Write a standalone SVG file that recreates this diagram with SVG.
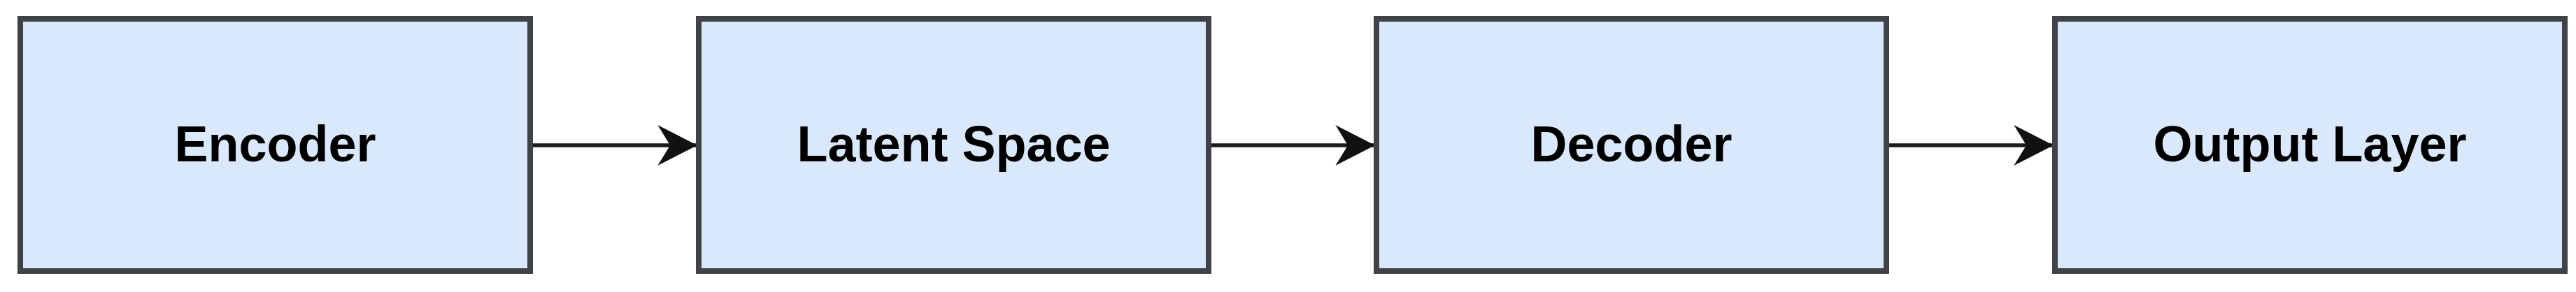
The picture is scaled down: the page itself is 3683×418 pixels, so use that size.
<svg xmlns="http://www.w3.org/2000/svg" width="3683" height="418" viewBox="0 0 3683 418">
<defs>
<style>
.box{fill:#dae8fc;stroke:#3f4246;stroke-width:8}
.lbl{font-family:"Liberation Sans",Arial,sans-serif;font-weight:bold;font-size:72px;fill:#000;text-anchor:middle}
.conn{stroke:#1a1a1a;stroke-width:5.5;fill:none}
</style>
<marker id="arr" markerUnits="userSpaceOnUse" markerWidth="60" markerHeight="60" viewBox="-52 -27 54 54" refX="0" refY="0" orient="auto">
<path d="M0,0 L-51,-26 L-35,0 L-51,26 Z" fill="#111"/>
</marker>
</defs>
<rect width="3683" height="418" fill="#fff"/>
<g id="connectors">
<line class="conn" x1="758" y1="208" x2="997" y2="208" marker-end="url(#arr)"/>
<line class="conn" x1="1728" y1="208" x2="1966" y2="208" marker-end="url(#arr)"/>
<line class="conn" x1="2697" y1="208" x2="2936" y2="208" marker-end="url(#arr)"/>
</g>
<g id="encoder">
<rect class="box" x="29" y="27" width="729" height="361"/>
<text class="lbl" x="393.5" y="231">Encoder</text>
</g>
<g id="latent-space">
<rect class="box" x="999" y="27" width="729" height="361"/>
<text class="lbl" x="1363.5" y="231">Latent Space</text>
</g>
<g id="decoder">
<rect class="box" x="1968" y="27" width="729" height="361"/>
<text class="lbl" x="2332.5" y="231">Decoder</text>
</g>
<g id="output-layer">
<rect class="box" x="2938" y="27" width="729" height="361"/>
<text class="lbl" x="3302.5" y="231">Output Layer</text>
</g>
</svg>
